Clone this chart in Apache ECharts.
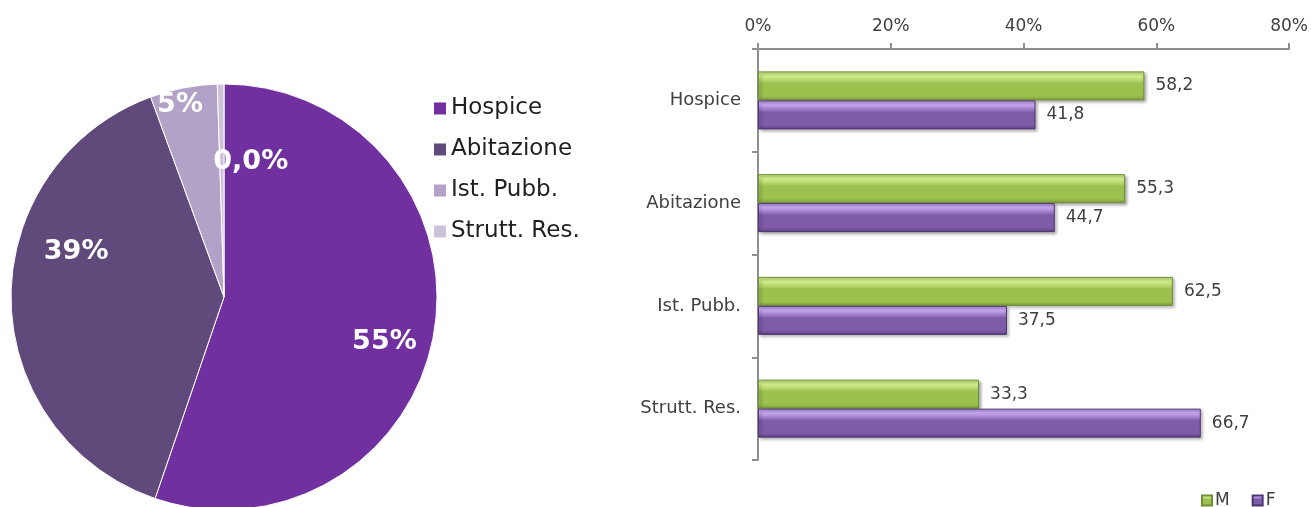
<!DOCTYPE html>
<html>
<head>
<meta charset="utf-8">
<script src="https://cdn.jsdelivr.net/npm/echarts@6/dist/echarts.min.js"></script>
<style>
html,body{margin:0;padding:0;background:#fff;}
#c{width:1311px;height:507px;}
</style>
</head>
<body>
<div id="c"></div>
<script>
// ---- data ----
const pieNames = ['Hospice', 'Abitazione', 'Ist. Pubb.', 'Strutt. Res.'];
const pieValues = [55.3, 39.2, 5.1, 0.5];
const pieLabels = ['55%', '39%', '5%', '0,0%'];
const pieColors = ['#7030A0', '#604A7B', '#B3A2C7', '#CCC1DA'];

const barCategories = ['Hospice', 'Abitazione', 'Ist. Pubb.', 'Strutt. Res.'];
const maleValues = [58.2, 55.3, 62.5, 33.3];
const femaleValues = [41.8, 44.7, 37.5, 66.7];
const xTicks = [0, 20, 40, 60, 80];

// label placement tuning (fraction of default radius, extra shifts)
const labelRadial = [1.55, 1.46, 1.87, 1.3];
const labelShiftX = [-7, 12, -5, 29];
const labelShiftY = [17, -47, 9, 7];

const FONT = 'DejaVu Sans';
const PIE_CX = 224, PIE_CY = 297, PIE_R = 213;

const chart = echarts.init(document.getElementById('c'));

function grad(top, light, mid, bottom) {
  return new echarts.graphic.LinearGradient(0, 0, 0, 1, [
    {offset: 0, color: top},
    {offset: 0.15, color: light},
    {offset: 0.42, color: mid},
    {offset: 0.85, color: mid},
    {offset: 1, color: bottom}
  ]);
}
const greenFill = grad('#bcdc6e', '#d6f291', '#9cc14f', '#7c9b3a');
const purpleFill = grad('#ab8cd8', '#cbabf5', '#7e5ca8', '#5c4180');

chart.setOption({
  animation: false,
  legend: [
    {
      orient: 'vertical',
      left: 429,
      top: 92,
      itemWidth: 12,
      itemHeight: 12,
      itemGap: 18,
      icon: 'rect',
      itemStyle: {borderWidth: 0},
      data: pieNames,
      textStyle: {fontFamily: FONT, fontSize: 23, color: '#1f1f1f'}
    },
    {
      orient: 'horizontal',
      left: 1196,
      top: 487,
      itemWidth: 10,
      itemHeight: 10,
      itemGap: 22,
      icon: 'rect',
      data: ['M', 'F'],
      textStyle: {fontFamily: FONT, fontSize: 17, color: '#404040', padding: [0, 0, 0, -2]}
    }
  ],
  grid: {left: 758, right: 21, top: 49, bottom: 47},
  xAxis: {
    type: 'value',
    position: 'top',
    min: 0,
    max: 80,
    interval: 20,
    axisLine: {show: true, lineStyle: {color: '#8f8f8f', width: 2}},
    axisTick: {show: true, length: 6, lineStyle: {color: '#8f8f8f', width: 2}},
    splitLine: {show: false},
    axisLabel: {
      margin: 14,
      fontFamily: FONT, fontSize: 17, color: '#404040',
      formatter: v => (xTicks.indexOf(v) >= 0 ? v + '%' : '')
    }
  },
  yAxis: {
    type: 'category',
    inverse: true,
    data: barCategories,
    axisLine: {show: true, lineStyle: {color: '#8f8f8f', width: 2}},
    axisTick: {show: true, length: 6, lineStyle: {color: '#8f8f8f', width: 2}},
    axisLabel: {margin: 17, fontFamily: FONT, fontSize: 18, color: '#404040'}
  },
  series: [
    {
      type: 'pie',
      center: [PIE_CX, PIE_CY],
      radius: [0, PIE_R],
      startAngle: 90,
      clockwise: true,
      avoidLabelOverlap: false,
      data: pieNames.map((n, i) => ({name: n, value: pieValues[i], itemStyle: {color: pieColors[i]}})),
      itemStyle: {borderColor: '#ffffff', borderWidth: 1},
      label: {
        show: true,
        position: 'inside',
        formatter: p => pieLabels[p.dataIndex],
        fontFamily: FONT,
        fontWeight: 'bold',
        fontSize: 27,
        color: '#ffffff'
      },
      labelLine: {show: false},
      labelLayout: function (p) {
        const r = p.labelRect;
        const lx = r.x + r.width / 2, ly = r.y + r.height / 2;
        const k = labelRadial[p.dataIndex];
        return {
          x: PIE_CX + (lx - PIE_CX) * k + labelShiftX[p.dataIndex],
          y: PIE_CY + (ly - PIE_CY) * k + labelShiftY[p.dataIndex],
          align: 'center',
          verticalAlign: 'middle'
        };
      }
    },
    {
      name: 'M',
      type: 'bar',
      data: maleValues,
      barWidth: 29,
      barGap: '0%',
      itemStyle: {
        color: greenFill,
        borderColor: '#6f8f35',
        borderWidth: 1,
        shadowColor: 'rgba(0,0,0,0.35)',
        shadowBlur: 3,
        shadowOffsetX: 2,
        shadowOffsetY: 2
      },
      label: {
        show: true, position: 'right', distance: 11,
        fontFamily: FONT, fontSize: 17, color: '#404040',
        formatter: p => String(p.value).replace('.', ',')
      }
    },
    {
      name: 'F',
      type: 'bar',
      data: femaleValues,
      barWidth: 29,
      barGap: '0%',
      itemStyle: {
        color: purpleFill,
        borderColor: '#4f3672',
        borderWidth: 1,
        shadowColor: 'rgba(0,0,0,0.35)',
        shadowBlur: 3,
        shadowOffsetX: 2,
        shadowOffsetY: 2
      },
      label: {
        show: true, position: 'right', distance: 11,
        fontFamily: FONT, fontSize: 17, color: '#404040',
        formatter: p => String(p.value).replace('.', ',')
      }
    }
  ]
});
</script>
</body>
</html>
